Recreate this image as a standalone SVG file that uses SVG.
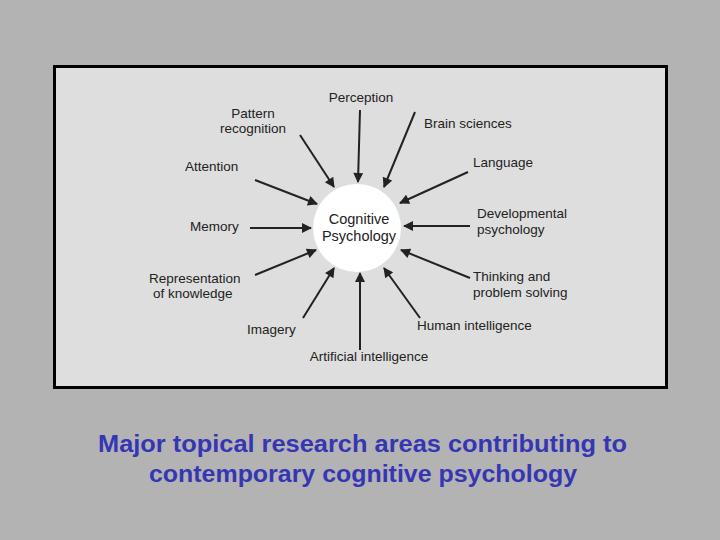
<svg xmlns="http://www.w3.org/2000/svg" width="720" height="540" viewBox="0 0 720 540">
<defs>
<style>
.t{font-family:"Liberation Sans",Arial,sans-serif;font-size:13.500px;fill:#222}
.c{stroke:#222;stroke-width:2;marker-end:url(#a)}
</style>
<marker id="a" viewBox="0 0 10 10" refX="9" refY="5" markerWidth="6" markerHeight="5" orient="auto" markerUnits="strokeWidth"><path d="M0,0L10,5L0,10z" fill="#222"/></marker>
</defs>
<rect width="720" height="540" fill="#b3b3b3"/>
<rect x="54.500" y="66.500" width="612" height="321" fill="#dedede" stroke="#000" stroke-width="3"/>
<g id="center"><circle cx="357" cy="228" r="44" fill="#fff"/>
<text class="t" x="359" y="224" text-anchor="middle" style="font-size:14.500px">Cognitive</text>
<text class="t" x="359" y="241" text-anchor="middle" style="font-size:14.500px">Psychology</text></g>
<g id="connectors">
<line class="c" x1="360" y1="110" x2="358" y2="182"/>
<line class="c" x1="300" y1="135" x2="334" y2="187"/>
<line class="c" x1="415" y1="112" x2="384" y2="187"/>
<line class="c" x1="468" y1="172" x2="400" y2="203"/>
<line class="c" x1="255" y1="180" x2="317" y2="204"/>
<line class="c" x1="250" y1="228" x2="311" y2="228"/>
<line class="c" x1="470" y1="226" x2="404" y2="226"/>
<line class="c" x1="255" y1="275" x2="316" y2="250"/>
<line class="c" x1="470" y1="278" x2="401" y2="250"/>
<line class="c" x1="303" y1="318" x2="334" y2="268"/>
<line class="c" x1="360" y1="350" x2="360" y2="273"/>
<line class="c" x1="420" y1="318" x2="384" y2="268"/>
</g>
<g id="perception"><text class="t" x="361" y="102" text-anchor="middle">Perception</text></g>
<g id="pattern"><text class="t" x="253" y="118" text-anchor="middle">Pattern</text><text class="t" x="253" y="133" text-anchor="middle">recognition</text></g>
<g id="brain"><text class="t" x="424" y="128">Brain sciences</text></g>
<g id="language"><text class="t" x="473" y="167">Language</text></g>
<g id="attention"><text class="t" x="185" y="171">Attention</text></g>
<g id="memory"><text class="t" x="190" y="231">Memory</text></g>
<g id="developmental"><text class="t" x="477" y="218">Developmental</text><text class="t" x="477" y="234">psychology</text></g>
<g id="representation"><text class="t" x="149" y="283">Representation</text><text class="t" x="153" y="298">of knowledge</text></g>
<g id="thinking"><text class="t" x="473" y="281">Thinking and</text><text class="t" x="473" y="297">problem solving</text></g>
<g id="imagery"><text class="t" x="247" y="334">Imagery</text></g>
<g id="human"><text class="t" x="417" y="330">Human intelligence</text></g>
<g id="ai"><text class="t" x="369" y="361" text-anchor="middle">Artificial intelligence</text></g>
<g id="caption" font-family="Liberation Sans,Arial,sans-serif" font-size="23" font-weight="bold" fill="#3636b4">
<text x="98" y="452" textLength="529" lengthAdjust="spacingAndGlyphs">Major topical research areas contributing to</text>
<text x="149" y="482" textLength="428" lengthAdjust="spacingAndGlyphs">contemporary cognitive psychology</text></g>
</svg>
